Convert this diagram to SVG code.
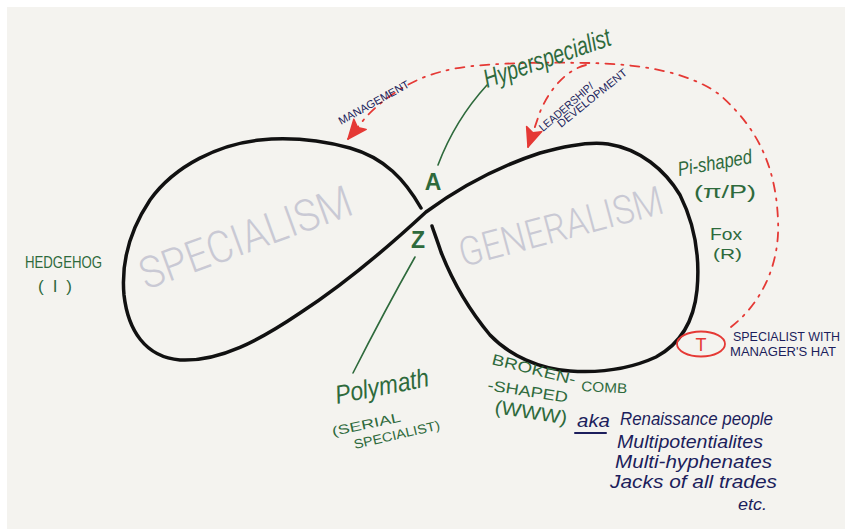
<svg xmlns="http://www.w3.org/2000/svg" width="845" height="529" viewBox="0 0 845 529">
<style>
.g{fill:#2e6a3c;font-family:'Liberation Sans',Arial,sans-serif}
.n{fill:#1c1e5c;font-family:'Liberation Sans',Arial,sans-serif}
.r{fill:#e53935;font-family:'Liberation Sans',Arial,sans-serif}
.i{font-style:italic}
.b{font-weight:bold}
.w{fill:#c9c9d4;font-family:Roboto,'Liberation Sans',sans-serif;font-weight:300}
.dash{fill:none;stroke:#e53935;stroke-width:1.8;stroke-dasharray:9 7 2 7;stroke-linecap:round}
.lead{fill:none;stroke:#2e6a3c;stroke-width:1.6;stroke-linecap:round}
.loop{fill:none;stroke:#111;stroke-width:3.5;stroke-linecap:round;stroke-linejoin:round}
</style>
<defs>
<marker id="arr" viewBox="-22 -10 24 20" refX="0" refY="0" markerWidth="24" markerHeight="20" markerUnits="userSpaceOnUse" orient="auto">
<path d="M0,0 L-19,-8 L-15,0 L-19,8 Z" fill="#e53935" stroke="#e53935" stroke-width="1.5" stroke-linejoin="round"/>
</marker>
</defs>
<rect width="845" height="529" fill="#ffffff"/>
<rect x="7" y="7" width="838" height="522" fill="#f4f3ef"/>

<g id="figure-eight">
<path class="loop" d="M421,208 C405,180 385,158 350,148 C320,140 290,137 260,140 C220,144 175,165 150,200 C130,230 121,262 124,295 C128,330 145,357 180,360 C220,362 260,340 300,313 C340,287 385,250 426,212 C460,187 500,166 540,153 C565,146 590,141 608,144 C640,149 665,170 680,195 C695,225 700,258 697,290 C694,320 682,343 656,357 C630,369 600,373 570,371 C540,369 510,356 490,335 C465,305 450,275 441,252 C437,240 434,232 432,226"/>
<text class="w" font-size="44" transform="translate(146,290) rotate(-20)" textLength="223" lengthAdjust="spacingAndGlyphs">SPECIALISM</text>
<text class="w" font-size="40" transform="translate(463,267) rotate(-15)" textLength="210" lengthAdjust="spacingAndGlyphs">GENERALISM</text>
</g>

<g id="connectors">
<path class="lead" d="M487,85 Q455,120 438,165"/>
<path class="lead" d="M415,257 Q385,310 353,373"/>
<path class="dash" d="M731,327 C765,300 780,260 778,220 C776,170 760,130 720,95 C690,72 640,64 590,63 C530,62 470,63 440,72 C410,80 385,97 366,117 L348,139" marker-end="url(#arr)"/>
<path class="dash" d="M586,65 C565,70 548,92 540,112 L528,147" marker-end="url(#arr)"/>
</g>

<g id="node-A"><text class="g b" x="433" y="190" font-size="23" text-anchor="middle">A</text></g>
<g id="node-Z"><text class="g b" x="418" y="248" font-size="23" text-anchor="middle">Z</text></g>

<g id="node-hyperspecialist">
<text class="g i" font-size="26" transform="translate(487,88) rotate(-19)" textLength="133" lengthAdjust="spacingAndGlyphs">Hyperspecialist</text>
</g>

<g id="node-management">
<text class="n" font-size="11" transform="translate(341,125) rotate(-29)" textLength="79" lengthAdjust="spacingAndGlyphs">MANAGEMENT</text>
</g>

<g id="node-leadership">
<text class="n" font-size="11" transform="translate(543,132) rotate(-41)" textLength="68" lengthAdjust="spacingAndGlyphs">LEADERSHIP/</text>
<text class="n" font-size="11" transform="translate(561,128) rotate(-39)" textLength="86" lengthAdjust="spacingAndGlyphs">DEVELOPMENT</text>
</g>

<g id="node-pi">
<text class="g i" font-size="20" transform="translate(679,176) rotate(-10)" textLength="75" lengthAdjust="spacingAndGlyphs">Pi-shaped</text>
<text class="g" x="694" y="198" font-size="19" textLength="62" lengthAdjust="spacingAndGlyphs">(π/P)</text>
</g>

<g id="node-fox">
<text class="g" x="710" y="240" font-size="16" textLength="32" lengthAdjust="spacingAndGlyphs">Fox</text>
<text class="g" x="713" y="259" font-size="15" textLength="29" lengthAdjust="spacingAndGlyphs">(R)</text>
</g>

<g id="node-T">
<ellipse cx="701" cy="344" rx="24" ry="12.5" fill="none" stroke="#e53935" stroke-width="1.8"/>
<text class="r" x="701" y="351" font-size="18" text-anchor="middle">T</text>
<text class="n" x="733" y="341" font-size="13" textLength="107" lengthAdjust="spacingAndGlyphs">SPECIALIST WITH</text>
<text class="n" x="730" y="356" font-size="13" textLength="106" lengthAdjust="spacingAndGlyphs">MANAGER'S HAT</text>
</g>

<g id="node-hedgehog">
<text class="g" x="25" y="268" font-size="16" textLength="77" lengthAdjust="spacingAndGlyphs">HEDGEHOG</text>
<text class="g" x="38" y="292" font-size="17" textLength="34" lengthAdjust="spacing">(I)</text>
</g>

<g id="node-polymath">
<text class="g i" font-size="26" transform="translate(337,404) rotate(-11)" textLength="95" lengthAdjust="spacingAndGlyphs">Polymath</text>
<text class="g" font-size="13" transform="translate(333,436) rotate(-12)" textLength="70" lengthAdjust="spacingAndGlyphs">(SERIAL</text>
<text class="g" font-size="13" transform="translate(355,449) rotate(-13)" textLength="88" lengthAdjust="spacingAndGlyphs">SPECIALIST)</text>
</g>

<g id="node-broken-comb">
<text class="g" font-size="15" transform="translate(491,364) rotate(14)" textLength="86" lengthAdjust="spacingAndGlyphs">BROKEN-</text>
<text class="g" font-size="14" transform="translate(581,391) rotate(3)" textLength="46" lengthAdjust="spacingAndGlyphs">COMB</text>
<text class="g" font-size="15" transform="translate(487,390) rotate(9)" textLength="81" lengthAdjust="spacingAndGlyphs">-SHAPED</text>
<text class="g" font-size="19" transform="translate(494,413) rotate(9)" textLength="73" lengthAdjust="spacingAndGlyphs">(WWW)</text>
</g>

<g id="node-aka">
<text class="n i" x="577" y="427" font-size="19" textLength="33" lengthAdjust="spacingAndGlyphs">aka</text>
<line x1="575" y1="433" x2="606" y2="433" stroke="#1c1e5c" stroke-width="2" stroke-linecap="round"/>
<text class="n i" x="620" y="425" font-size="19" textLength="153" lengthAdjust="spacingAndGlyphs">Renaissance people</text>
<text class="n i" x="617" y="448" font-size="19" textLength="146" lengthAdjust="spacingAndGlyphs">Multipotentialites</text>
<text class="n i" x="615" y="468" font-size="19" textLength="157" lengthAdjust="spacingAndGlyphs">Multi-hyphenates</text>
<text class="n i" x="610" y="488" font-size="18" textLength="167" lengthAdjust="spacingAndGlyphs">Jacks of all trades</text>
<text class="n i" x="738" y="510" font-size="16" textLength="29" lengthAdjust="spacingAndGlyphs">etc.</text>
</g>
</svg>
